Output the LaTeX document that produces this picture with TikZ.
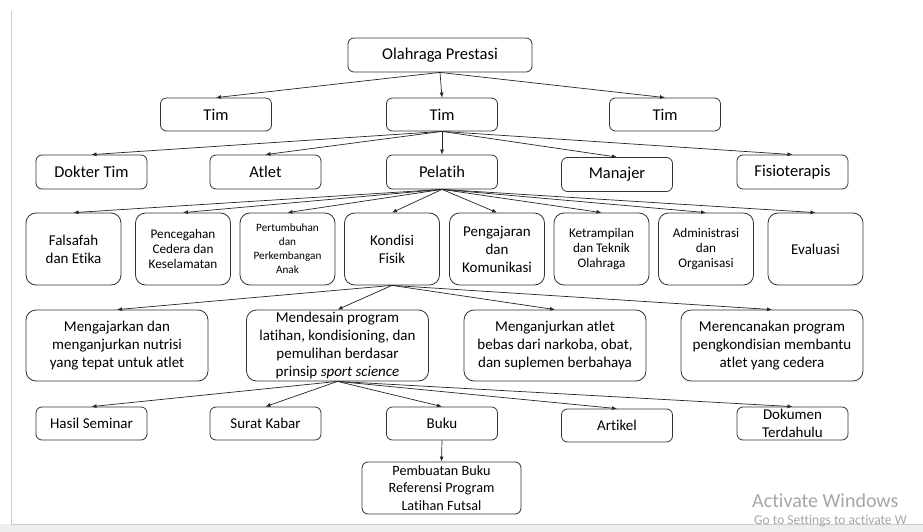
\documentclass[tikz,border=0pt]{standalone}
\usepackage{fontspec}
\setmainfont{Carlito}[Ligatures={NoCommon}]
\usetikzlibrary{arrows.meta}
\begin{document}
\begin{tikzpicture}[x=1pt,y=-1pt,
  bx/.style={draw=black!80, line width=0.8pt, rounded corners=6pt, align=center, inner sep=0pt, fill=white},
  big/.style={bx, font=\fontsize{16.5}{19}\selectfont},
  mid/.style={bx, font=\fontsize{15}{18}\selectfont},
  smallA/.style={bx, font=\fontsize{13.2}{15.3}\selectfont},
  smallB/.style={bx, font=\fontsize{11.2}{14}\selectfont},
  rowA/.style={minimum width=111pt, minimum height=34pt},
  rowC/.style={minimum width=95pt, minimum height=72pt, rounded corners=10pt},
  rowD/.style={minimum width=182pt, minimum height=71pt, rounded corners=10pt},
  rowE/.style={minimum width=111pt, minimum height=33pt},
  conn/.style={draw=black!85, line width=0.7pt, -{Latex[length=5pt,width=4pt]}},
  wm/.style={text=black!35, anchor=west, inner sep=0pt}
]
\useasboundingbox (0,0) rectangle (923,532);
\fill[white] (0,0) rectangle (923,532);
% page frame
\fill[black!7] (0,524) rectangle (923,532);
\draw[black!20, line width=0.8pt] (11,11) -- (11,524) -- (923,524);

% nodes
\node[big, minimum width=184pt, minimum height=34pt] (op) at (440,55) {Olahraga Prestasi};
\node[big, rowA, minimum height=33pt] (t1) at (216,114.5) {Tim};
\node[big, rowA, minimum height=33pt] (t2) at (442,114.5) {Tim};
\node[big, rowA, minimum height=33pt] (t3) at (665,114.5) {Tim};

\node[big, rowA] (dok) at (91.5,172) {Dokter Tim};
\node[big, rowA] (atl) at (265.5,172) {Atlet};
\node[big, rowA] (pel) at (442,172) {Pelatih};
\node[big, rowA] (man) at (617,174.5) {Manajer};
\node[big, rowA] (fis) at (792.5,172) {Fisioterapis};

\node[mid, rowC] (fal) at (73.5,249) {Falsafah\\dan Etika};
\node[smallA, rowC] (pen) at (183,249) {Pencegahan\\Cedera dan\\Keselamatan};
\node[smallB, rowC] (per) at (287.5,249) {Pertumbuhan\\dan\\Perkembangan\\Anak};
\node[mid, rowC] (kon) at (392,249) {Kondisi\\Fisik};
\node[mid, rowC] (peng) at (497,249) {Pengajaran\\dan\\Komunikasi};
\node[smallA, rowC] (ket) at (601.5,249) {Ketrampilan\\dan Teknik\\Olahraga};
\node[smallA, rowC] (adm) at (706,249) {Administrasi\\dan\\Organisasi};
\node[mid, rowC] (eva) at (815.5,249) {Evaluasi};

\node[mid, rowD] (meng) at (117,345.5) {Mengajarkan dan\\menganjurkan nutrisi\\yang tepat untuk atlet};
\node[mid, rowD] (mend) at (337.5,345.5) {Mendesain program\\latihan, kondisioning, dan\\pemulihan berdasar\\prinsip \textit{sport science}};
\node[mid, rowD] (mga) at (555,345.5) {Menganjurkan atlet\\bebas dari narkoba, obat,\\dan suplemen berbahaya};
\node[mid, rowD] (mer) at (772,345.5) {Merencanakan program\\pengkondisian membantu\\atlet yang cedera};

\node[mid, rowE] (has) at (91.5,423.5) {Hasil Seminar};
\node[mid, rowE] (sur) at (265.5,423.5) {Surat Kabar};
\node[mid, rowE] (buk) at (442,423.5) {Buku};
\node[mid, rowE] (art) at (617,425.5) {Artikel};
\node[mid, rowE] (dkm) at (792.5,423.5) {Dokumen\\Terdahulu};

\node[bx, font=\fontsize{14.2}{17.8}\selectfont, minimum width=159pt, minimum height=52pt] (pem) at (441.5,488) {Pembuatan Buku\\Referensi Program\\Latihan Futsal};

% connectors
\foreach \c in {t1,t2,t3} \draw[conn] (op.south) -- (\c.north);
\foreach \c in {dok,atl,pel,man,fis} \draw[conn] (t2.south) -- (\c.north);
\foreach \c in {fal,pen,per,kon,peng,ket,adm,eva} \draw[conn] (pel.south) -- (\c.north);
\foreach \c in {meng,mend,mga,mer} \draw[conn] (kon.south) -- (\c.north);
\foreach \c in {has,sur,buk,art,dkm} \draw[conn] (mend.south) -- (\c.north);
\draw[conn] (buk.south) -- (pem.north);

% watermark
\node[wm, font=\fontsize{20}{22}\selectfont] (wm1) at (752,501) {Activate Windows};
\node[wm, font=\fontsize{13.5}{15}\selectfont] (wm2) at (754,521) {Go to Settings to activate W};
\end{tikzpicture}
\end{document}
